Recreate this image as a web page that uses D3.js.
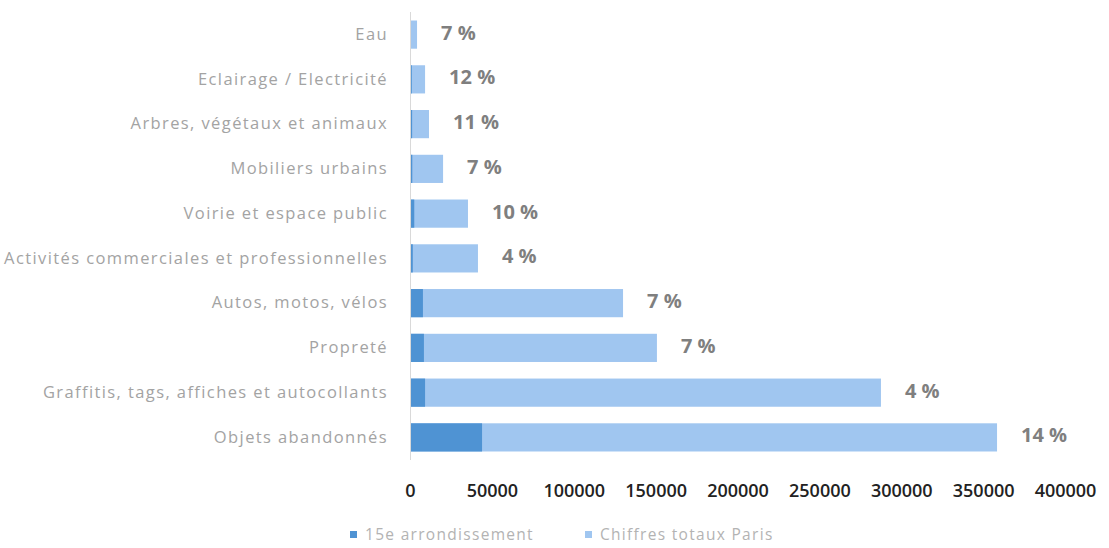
<!DOCTYPE html>
<html>
<head>
<meta charset="utf-8">
<script src="https://cdn.jsdelivr.net/npm/d3@7"></script>
<style>
    body { margin: 0; background: #fff; }
    #chart-area { width: 1109px; height: 548px; }
    .cat-label { font-family: "Open Sans", sans-serif; font-size: 16.5px; fill: #a3a3a3; letter-spacing: 1.4px; }
    .pct-label { font-family: "Open Sans", sans-serif; font-size: 20px; font-weight: 700; fill: #7f7f7f; }
    .x-axis text { font-family: "Open Sans", sans-serif; font-size: 18px; font-weight: 600; fill: #222; }
    .legend text { font-family: "Open Sans", sans-serif; font-size: 15.5px; fill: #b3b3b3; letter-spacing: 1.3px; }
</style>
</head>
<body>
<div id="chart-area"></div>
<script>

// categories, top to bottom
const categories = [
    "Eau",
    "Eclairage / Electricité",
    "Arbres, végétaux et animaux",
    "Mobiliers urbains",
    "Voirie et espace public",
    "Activités commerciales et professionnelles",
    "Autos, motos, vélos",
    "Propreté",
    "Graffitis, tags, affiches et autocollants",
    "Objets abandonnés"
];

// Chiffres totaux Paris
const totalParis = [4300, 9200, 11600, 20200, 35400, 41500, 130100, 150800, 287600, 358500];

// 15e arrondissement
const arr15 = [300, 1100, 1300, 1400, 2600, 1700, 7900, 8500, 9200, 44000];

// share labels written beside the bars
const pctLabels = ["7 %", "12 %", "11 %", "7 %", "10 %", "4 %", "7 %", "7 %", "4 %", "14 %"];

const xTicks = [0, 50000, 100000, 150000, 200000, 250000, 300000, 350000, 400000];

const seriesNames = ["15e arrondissement", "Chiffres totaux Paris"];
const seriesColors = ["#4f93d3", "#a0c6f0"];


class BarVis {

    constructor(_parentElement) {
        this.parentElement = _parentElement;
        this.initVis();
    }

    initVis() {
        let vis = this;

        vis.margin = { top: 12, right: 44, bottom: 88, left: 410 };
        vis.width = 1109 - vis.margin.left - vis.margin.right;
        vis.height = 548 - vis.margin.top - vis.margin.bottom;

        vis.svg = d3.select("#" + vis.parentElement).append("svg")
            .attr("width", 1109)
            .attr("height", 548)
            .append("g")
            .attr("transform", "translate(" + vis.margin.left + "," + vis.margin.top + ")");

        vis.x = d3.scaleLinear()
            .domain([0, 400000])
            .range([0, vis.width]);

        vis.y = d3.scaleBand()
            .domain(categories)
            .range([0, vis.height])
            .paddingInner(0.37)
            .paddingOuter(0.19);

        vis.displayData = categories.map((c, i) => ({
            cat: c,
            total: totalParis[i],
            local: arr15[i],
            pct: pctLabels[i]
        }));

        vis.updateVis();
    }

    updateVis() {
        let vis = this;

        // total bars
        vis.svg.selectAll(".bar-total")
            .data(vis.displayData)
            .enter()
            .append("rect").attr("class", "bar-total")
            .attr("x", vis.x(0))
            .attr("y", d => vis.y(d.cat))
            .attr("width", d => vis.x(d.total) - vis.x(0))
            .attr("height", vis.y.bandwidth())
            .attr("fill", seriesColors[1]);

        // 15e bars drawn over from zero
        vis.svg.selectAll(".bar-local")
            .data(vis.displayData)
            .enter()
            .append("rect").attr("class", "bar-local")
            .attr("x", vis.x(0))
            .attr("y", d => vis.y(d.cat))
            .attr("width", d => vis.x(d.local) - vis.x(0))
            .attr("height", vis.y.bandwidth())
            .attr("fill", seriesColors[0]);

        // percentage labels
        vis.svg.selectAll(".pct-label")
            .data(vis.displayData)
            .enter()
            .append("text").attr("class", "pct-label")
            .attr("x", d => vis.x(d.total) + 24)
            .attr("y", d => vis.y(d.cat) + vis.y.bandwidth() / 2 - 2)
            .attr("dy", "0.35em")
            .text(d => d.pct);

        // y axis
        let yAxis = d3.axisLeft(vis.y).tickSize(0).tickPadding(22);
        let yg = vis.svg.append("g").attr("class", "y-axis").call(yAxis);
        yg.select(".domain").attr("stroke", "#d9d9d9").attr("d", "M0.5,0V" + vis.height);
        yg.selectAll("text").attr("class", "cat-label").attr("fill", null);

        // x axis, no line
        let xAxis = d3.axisBottom(vis.x).tickValues(xTicks).tickSize(0).tickPadding(0)
            .tickFormat(d3.format("d"));
        let xg = vis.svg.append("g").attr("class", "x-axis")
            .attr("transform", "translate(0," + (vis.height + 24) + ")")
            .call(xAxis);
        xg.select(".domain").remove();
        xg.selectAll("text").attr("fill", null);

        // legend
        let legend = vis.svg.append("g").attr("class", "legend")
            .attr("transform", "translate(-60," + (vis.height + 75) + ")");
        let items = legend.selectAll("g")
            .data(seriesNames)
            .enter()
            .append("g")
            .attr("transform", (d, i) => "translate(" + (i * 235) + ",0)");
        items.append("rect")
            .attr("x", 0).attr("y", -4)
            .attr("width", 7).attr("height", 7)
            .attr("fill", (d, i) => seriesColors[i]);
        items.append("text")
            .attr("x", 15).attr("dy", "0.35em")
            .text(d => d);
    }
}

new BarVis("chart-area");

</script>
</body>
</html>
